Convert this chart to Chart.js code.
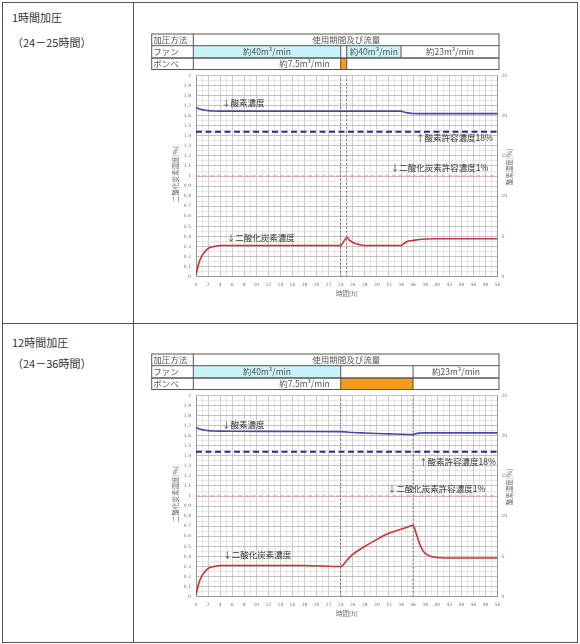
<!DOCTYPE html>
<html>
<head>
<meta charset="utf-8">
<script src="https://cdn.jsdelivr.net/npm/chart.js@4.4.1/dist/chart.umd.min.js"></script>
<style>
  html, body { margin: 0; padding: 0; background: #fff; }
  body { width: 580px; height: 644px; position: relative; overflow: hidden;
         font-family: "Noto Sans CJK JP", "DejaVu Sans", sans-serif; color: #333; }
  .rule { position: absolute; background: #555; }
  .cap { position: absolute; left: 12px; font-size: 11px; line-height: 14px; white-space: nowrap; color: #333; }
  canvas { position: absolute; }
</style>
</head>
<body>
  <!-- table frame -->
  <div class="rule" style="left:2px;top:2px;width:576px;height:1px"></div>
  <div class="rule" style="left:2px;top:323px;width:576px;height:1px"></div>
  <div class="rule" style="left:2px;top:642px;width:576px;height:1px"></div>
  <div class="rule" style="left:2px;top:2px;width:1px;height:641px"></div>
  <div class="rule" style="left:133px;top:2px;width:1px;height:641px"></div>
  <div class="rule" style="left:577px;top:2px;width:1px;height:641px"></div>

  <div class="cap" style="top:10px">1時間加圧</div>
  <div class="cap" style="top:35px">（24－25時間）</div>
  <div class="cap" style="top:335px">12時間加圧</div>
  <div class="cap" style="top:356px">（24－36時間）</div>

  <canvas id="run1" width="440" height="318" style="left:136px;top:4px"></canvas>
  <canvas id="run2" width="440" height="318" style="left:136px;top:324px"></canvas>

<script>
// ---- axis ranges ----
const hourMax = 50;
const co2Max = 2;      // CO2 [%], left axis
const o2Max = 25;      // O2 [%], right axis
const o2Limit = 18;    // allowed O2 concentration [%]
const co2Limit = 1;    // allowed CO2 concentration [%]
const cylinderFlow = 7.5;

// ---- run 1: 1 hour pressurisation (24–25 h) ----
const hours1  = [0, 0.5, 1, 1.5, 2, 3, 4, 6, 12, 18, 24, 24.5, 25, 25.5, 26, 27, 28, 30, 34, 34.5, 35, 36, 37, 38, 40, 44, 50];
const co2Run1 = [0.02, 0.14, 0.21, 0.25, 0.28, 0.30, 0.31, 0.31, 0.31, 0.31, 0.31, 0.35, 0.39, 0.36, 0.34, 0.32, 0.31, 0.31, 0.31, 0.33, 0.35, 0.36, 0.37, 0.375, 0.377, 0.377, 0.377];
const o2Run1  = [21.0, 20.85, 20.75, 20.68, 20.63, 20.58, 20.56, 20.56, 20.56, 20.56, 20.56, 20.56, 20.56, 20.56, 20.56, 20.56, 20.56, 20.56, 20.56, 20.45, 20.35, 20.27, 20.25, 20.25, 20.25, 20.25, 20.25];
const events1 = [24, 25];
const fanEdges1 = [0, 24, 25, 34, 50];
const fanFlow1  = [40, 0, 40, 23];
const cylinderSpan1 = [24, 25];

// ---- run 2: 12 hour pressurisation (24–36 h) ----
const hours2  = [0, 0.5, 1, 1.5, 2, 3, 4, 6, 12, 18, 24, 25, 26, 28, 30, 32, 34, 35, 36, 36.5, 37, 37.5, 38, 39, 40, 42, 46, 50];
const co2Run2 = [0.02, 0.14, 0.21, 0.25, 0.28, 0.30, 0.31, 0.31, 0.31, 0.31, 0.30, 0.36, 0.42, 0.50, 0.57, 0.63, 0.67, 0.69, 0.71, 0.63, 0.54, 0.47, 0.43, 0.40, 0.39, 0.385, 0.385, 0.385];
const o2Run2  = [21.0, 20.85, 20.75, 20.68, 20.63, 20.58, 20.56, 20.55, 20.53, 20.52, 20.5, 20.45, 20.4, 20.33, 20.27, 20.22, 20.17, 20.15, 20.13, 20.25, 20.32, 20.34, 20.35, 20.35, 20.35, 20.35, 20.35, 20.35];
const events2 = [24, 36];
const fanEdges2 = [0, 24, 36, 50];
const fanFlow2  = [40, 0, 23];
const cylinderSpan2 = [24, 36];

// ---- in-plot captions (hour, value, axis) ----
const notes1 = [
  { text: '↓酸素濃度', h: 4.3, v: 1.73, axis: 'y' },
  { text: '↑酸素許容濃度18%', h: 36.5, v: 17.3, axis: 'y1' },
  { text: '↓二酸化炭素許容濃度1%', h: 32.3, v: 1.08, axis: 'y' },
  { text: '↓二酸化炭素濃度', h: 5.1, v: 0.39, axis: 'y' }
];
const notes2 = [
  { text: '↓酸素濃度', h: 4.3, v: 1.71, axis: 'y' },
  { text: '↑酸素許容濃度18%', h: 37.0, v: 16.7, axis: 'y1' },
  { text: '↓二酸化炭素許容濃度1%', h: 31.8, v: 1.07, axis: 'y' },
  { text: '↓二酸化炭素濃度', h: 4.5, v: 0.42, axis: 'y' }
];

const CJK = '"Noto Sans CJK JP", "DejaVu Sans", sans-serif';
const flowText = f => '約' + f + 'm³/min';

// header table, axis titles and captions drawn around the plot area
const sheetPlugin = {
  id: 'sheet',
  afterDraw(chart, args, o) {
    const { ctx, chartArea: a, scales } = chart;
    const x = scales.x;
    ctx.save();

    // header table geometry
    const t0 = a.top - 41.4, t1 = a.top - 29.7, t2 = a.top - 17.4, t3 = a.top - 5.9;
    const c0 = a.left - 44.3, c1 = a.left - 2.7, c2 = a.right + 1.5;
    const px = h => h <= 0 ? c1 : (h >= hourMax ? c2 : x.getPixelForValue(h));
    const seg = (l, t, r, b) => { ctx.beginPath(); ctx.moveTo(l, t); ctx.lineTo(r, b); ctx.stroke(); };

    o.fanFlow.forEach((f, i) => {
      if (f === 40) {
        ctx.fillStyle = '#c8f3f8';
        ctx.fillRect(px(o.fanEdges[i]), t1, px(o.fanEdges[i + 1]) - px(o.fanEdges[i]), t2 - t1);
      }
    });
    ctx.fillStyle = '#f39b1d';
    ctx.fillRect(px(o.cylinderSpan[0]), t2, px(o.cylinderSpan[1]) - px(o.cylinderSpan[0]), t3 - t2);

    ctx.strokeStyle = '#555';
    ctx.lineWidth = 1;
    ctx.strokeRect(c0, t0, c2 - c0, t3 - t0);
    seg(c0, t1, c2, t1);
    seg(c1, t0, c1, t3);
    o.fanEdges.slice(1, -1).forEach(e => seg(px(e), t1, px(e), t2));
    o.cylinderSpan.forEach(e => seg(px(e), t2, px(e), t3));
    ctx.lineWidth = 1.6;
    seg(c0, t2, c2, t2);

    ctx.font = '8.5px ' + CJK;
    ctx.textBaseline = 'middle';
    ctx.fillStyle = '#555';
    ctx.textAlign = 'left';
    ctx.fillText('加圧方法', c0 + 1.5, (t0 + t1) / 2);
    ctx.fillText('ファン', c0 + 1.5, (t1 + t2) / 2);
    ctx.fillText('ボンベ', c0 + 1.5, (t2 + t3) / 2);
    ctx.textAlign = 'center';
    ctx.fillText('使用期間及び流量', (c1 + c2) / 2, (t0 + t1) / 2);
    o.fanFlow.forEach((f, i) => {
      if (f > 0) ctx.fillText(flowText(f), (px(o.fanEdges[i]) + px(o.fanEdges[i + 1])) / 2, (t1 + t2) / 2);
    });
    ctx.fillText(flowText(cylinderFlow), x.getPixelForValue(18), (t2 + t3) / 2);

    // axis titles
    ctx.font = '6.5px ' + CJK;
    ctx.fillStyle = '#666';
    ctx.save();
    ctx.translate(a.left - 20, (a.top + a.bottom) / 2 - 2);
    ctx.rotate(-Math.PI / 2);
    ctx.fillText('二酸化炭素濃度[%]', 0, 0);
    ctx.restore();
    ctx.save();
    ctx.translate(a.right + 12.5, (a.top + a.bottom) / 2 - 9);
    ctx.rotate(-Math.PI / 2);
    ctx.fillText('酸素濃度[%]', 0, 0);
    ctx.restore();
    ctx.fillText('時間[h]', (a.left + a.right) / 2, a.bottom + 16.5);

    // captions inside the plot
    ctx.font = '8.5px ' + CJK;
    ctx.fillStyle = '#333';
    ctx.textAlign = 'left';
    o.notes.forEach(n => {
      ctx.fillText(n.text, x.getPixelForValue(n.h), scales[n.axis].getPixelForValue(n.v));
    });
    ctx.restore();
  }
};

const pts = (xs, ys) => xs.map((h, i) => ({ x: h, y: ys[i] }));
const gridTone = (v, step) => Math.round(v / step) % 2 === 0;

function makeChart(id, hours, co2, o2, events, fanEdges, fanFlow, cylinderSpan, notes) {
  const datasets = [
    { data: pts(hours, co2), yAxisID: 'y', borderColor: '#c8343c', borderWidth: 1.6,
      cubicInterpolationMode: 'monotone' },
    { data: pts(hours, o2), yAxisID: 'y1', borderColor: '#4848a6', borderWidth: 1.6,
      cubicInterpolationMode: 'monotone' },
    { data: [{ x: 0, y: o2Limit }, { x: hourMax, y: o2Limit }], yAxisID: 'y1',
      borderColor: '#2b2b8c', borderWidth: 2.2, borderDash: [6, 3.5] },
    { data: [{ x: 0, y: co2Limit }, { x: hourMax, y: co2Limit }], yAxisID: 'y',
      borderColor: '#e68f9a', borderWidth: 1.2, borderDash: [4, 3] }
  ];
  events.forEach(h => datasets.push({
    data: [{ x: h, y: 0 }, { x: h, y: co2Max }], yAxisID: 'y',
    borderColor: '#555', borderWidth: 0.8, borderDash: [2, 2]
  }));

  const tickFont = { size: 4.5, family: '"DejaVu Sans", sans-serif' };
  return new Chart(document.getElementById(id), {
    type: 'line',
    data: { datasets },
    options: {
      responsive: false,
      animation: false,
      events: [],
      layout: { padding: { left: 46, right: 66.5, top: 71.4, bottom: 31.3 } },
      elements: { point: { radius: 0 }, line: { fill: false } },
      plugins: {
        legend: { display: false },
        tooltip: { enabled: false },
        sheet: { fanEdges, fanFlow, cylinderSpan, notes }
      },
      scales: {
        x: {
          type: 'linear', min: 0, max: hourMax,
          afterFit: s => { s.height = 14; },
          ticks: { stepSize: 1, autoSkip: false, maxRotation: 0, padding: 5, color: '#777', font: tickFont,
                   callback: v => (v % 2 === 0 ? String(v) : '') },
          grid: { drawTicks: false, lineWidth: 0.8,
                  color: c => (c.tick && c.tick.value % 2 === 0 ? '#c2c2c2' : '#e2e2e2') },
          border: { color: '#999' }
        },
        y: {
          type: 'linear', position: 'left', min: 0, max: co2Max,
          afterFit: s => { s.width = 14; },
          ticks: { stepSize: 0.05, autoSkip: false, padding: 5, color: '#777', font: tickFont,
                   callback: v => (gridTone(v, 0.05) ? String(Math.round(v * 10) / 10) : '') },
          grid: { drawTicks: false, lineWidth: 0.8,
                  color: c => (c.tick && gridTone(c.tick.value, 0.05) ? '#b4b4b4' : '#e0e0e0') },
          border: { color: '#999' }
        },
        y1: {
          type: 'linear', position: 'right', min: 0, max: o2Max,
          afterFit: s => { s.width = 12; },
          ticks: { stepSize: 5, padding: 4, color: '#777', font: tickFont },
          grid: { display: false, drawTicks: false },
          border: { color: '#999' }
        }
      }
    },
    plugins: [sheetPlugin]
  });
}

makeChart('run1', hours1, co2Run1, o2Run1, events1, fanEdges1, fanFlow1, cylinderSpan1, notes1);
makeChart('run2', hours2, co2Run2, o2Run2, events2, fanEdges2, fanFlow2, cylinderSpan2, notes2);
</script>
</body>
</html>
